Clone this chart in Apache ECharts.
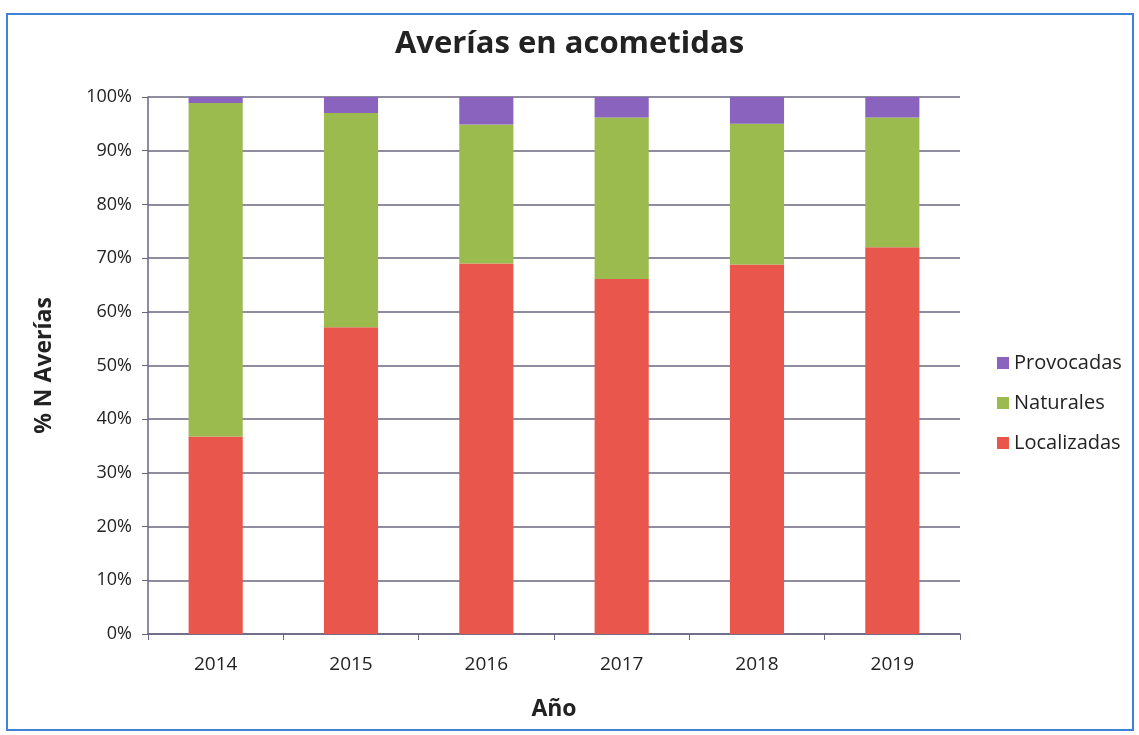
<!DOCTYPE html>
<html>
<head>
<meta charset="utf-8">
<script src="https://cdn.jsdelivr.net/npm/echarts@6/dist/echarts.min.js"></script>
<style>
  html, body { margin: 0; padding: 0; background: #fff; }
  #frame {
    position: absolute; left: 6px; top: 13px; width: 1128px; height: 718px;
    border: 2px solid #3d82d6; box-sizing: border-box;
  }
  #chart { position: absolute; left: 0; top: 0; width: 1139px; height: 735px; }
</style>
</head>
<body>
<div id="frame"></div>
<div id="chart"></div>
<script>
var years = ["2014", "2015", "2016", "2017", "2018", "2019"];
var localizadas = [36.8, 57.1, 69.0, 66.1, 68.8, 72.0];
var naturales = [62.1, 39.9, 25.9, 30.1, 26.2, 24.2];
var provocadas = [1.1, 3.0, 5.1, 3.8, 5.0, 3.8];

var font = "Open Sans";
var myChart = echarts.init(document.getElementById("chart"));
var barStyle = { barWidth: "40%", stack: "total", type: "bar" };
var option = {
  animation: false,
  title: {
    text: "Averías en acometidas",
    left: "center",
    top: 24,
    textStyle: { fontFamily: font, fontWeight: "bold", fontSize: 31, color: "#222" }
  },
  legend: {
    orient: "vertical",
    left: 992,
    top: 348,
    itemWidth: 12,
    itemHeight: 12,
    itemGap: 20,
    icon: "rect",
    data: ["Provocadas", "Naturales", "Localizadas"],
    textStyle: { fontFamily: font, fontSize: 20, color: "#222" }
  },
  grid: { left: 148, right: 179, top: 97, bottom: 101 },
  xAxis: {
    type: "category",
    data: years,
    name: "Año",
    nameLocation: "middle",
    nameGap: 64,
    nameTextStyle: { fontFamily: font, fontWeight: "bold", fontSize: 23, color: "#222" },
    axisLine: { lineStyle: { color: "#6b6680", width: 1.5 } },
    axisTick: { show: true, length: 6, lineStyle: { color: "#6b6680" } },
    axisLabel: { fontFamily: font, fontSize: 19, color: "#222", margin: 21 }
  },
  yAxis: {
    type: "value",
    min: 0,
    max: 100,
    interval: 10,
    name: "% N Averías",
    nameLocation: "middle",
    nameGap: 92,
    nameTextStyle: { fontFamily: font, fontWeight: "bold", fontSize: 23, color: "#222" },
    axisLine: { show: true, lineStyle: { color: "#6b6680", width: 1.5 } },
    axisTick: { show: true, length: 6, lineStyle: { color: "#6b6680" } },
    axisLabel: { fontFamily: font, fontSize: 18, color: "#222", margin: 16, formatter: "{value}%" },
    splitLine: { lineStyle: { color: "#6b6680", width: 1.5 } }
  },
  series: [
    Object.assign({ name: "Localizadas", data: localizadas, itemStyle: { color: "#e9564b" } }, barStyle),
    Object.assign({ name: "Naturales", data: naturales, itemStyle: { color: "#9cbb4e" } }, barStyle),
    Object.assign({ name: "Provocadas", data: provocadas, itemStyle: { color: "#8a63bf" } }, barStyle)
  ]
};
myChart.setOption(option);
</script>
</body>
</html>
